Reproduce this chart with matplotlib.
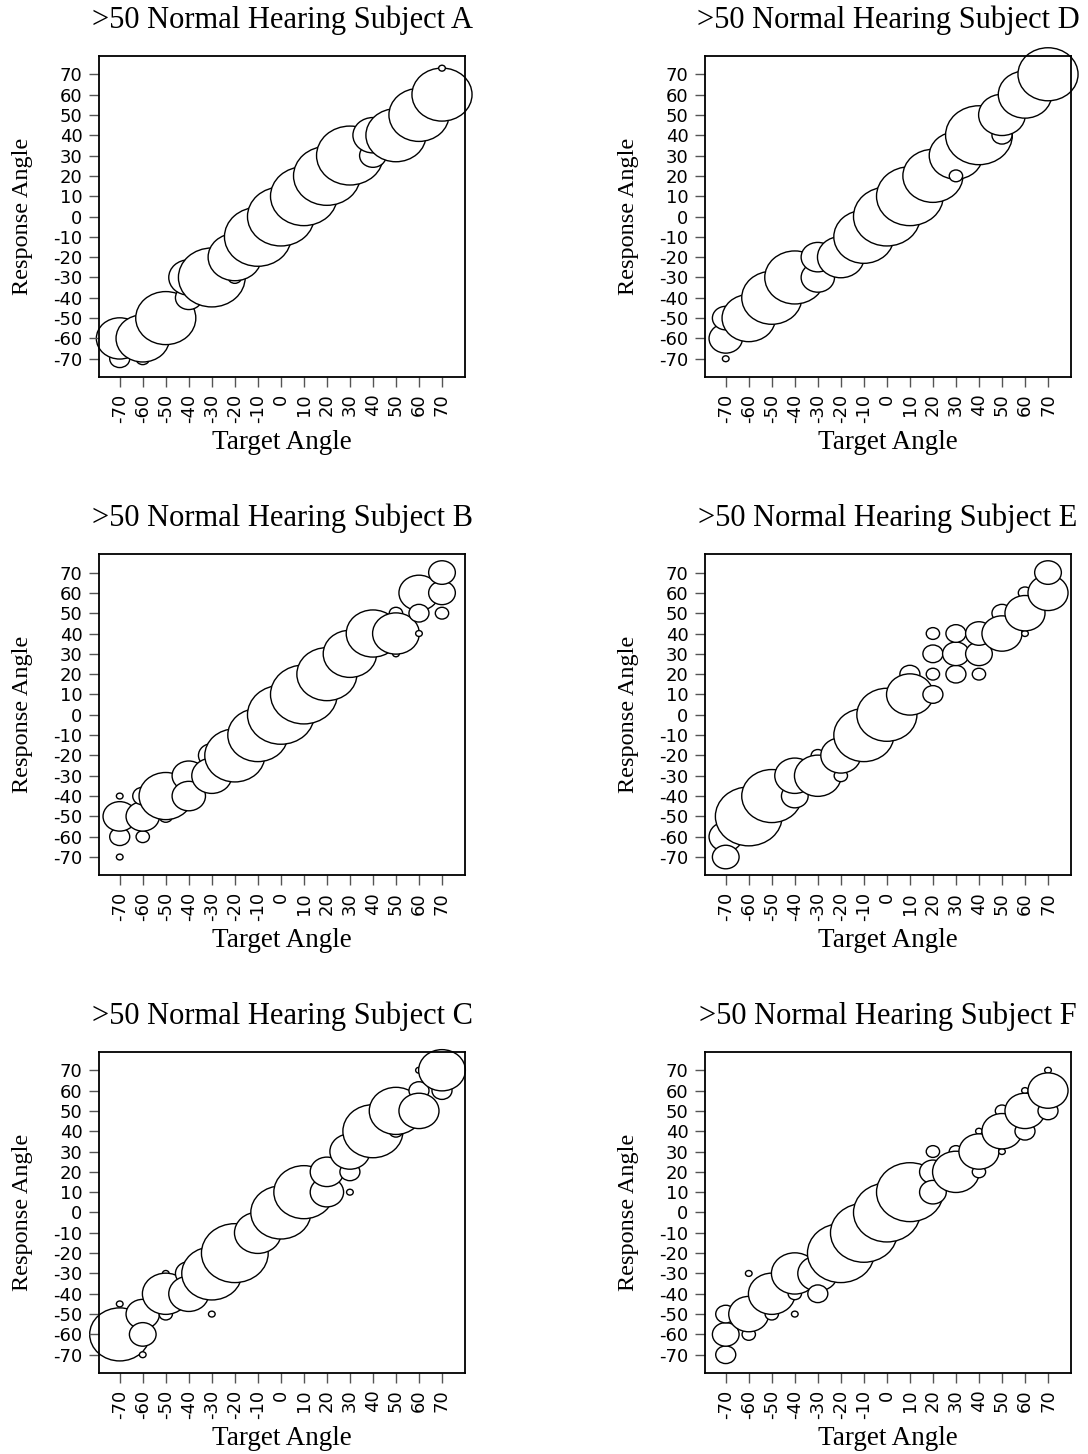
import matplotlib.pyplot as plt
from matplotlib.patches import Circle
import numpy as np

plt.rcParams['font.family'] = ['Liberation Serif', 'DejaVu Serif']

angles = np.arange(-70, 71, 10)

# bubble = number of responses (of 10 trials per target angle)
a_target = [-70, -70, -60, -60, -50, -40, -40, -30, -20, -20, -10, 0, 10, 20, 30, 40, 40, 50, 60, 70, 70]
a_response = [-70, -60, -70, -60, -50, -40, -30, -30, -30, -20, -10, 0, 10, 20, 30, 30, 40, 40, 50, 60, 73]
a_count = [3, 7, 2, 8, 9, 4, 6, 10, 2, 8, 10, 10, 10, 10, 10, 4, 6, 9, 9, 9, 1]

b_target = [-70, -70, -70, -70, -60, -60, -60, -50, -50, -40, -40, -30, -30, -20, -10, 0, 10, 20, 30, 40,
            50, 50, 50, 60, 60, 60, 70, 70, 70]
b_response = [-70, -60, -50, -40, -60, -50, -40, -50, -40, -30, -40, -20, -30, -20, -10, 0, 10, 20, 30, 40,
              30, 50, 40, 40, 60, 50, 50, 60, 70]
b_count = [1, 3, 5, 1, 2, 5, 3, 2, 8, 5, 5, 4, 6, 9, 9, 10, 10, 9, 8, 8,
           1, 2, 7, 1, 6, 3, 2, 4, 4]

c_target = [-70, -70, -60, -60, -60, -50, -50, -50, -40, -40, -30, -30, -20, -10, -10, 0, 10, 20, 20,
            30, 30, 30, 40, 50, 50, 60, 60, 60, 70, 70]
c_response = [-45, -60, -70, -50, -60, -50, -30, -40, -30, -40, -50, -30, -20, 0, -10, 0, 10, 10, 20,
              10, 20, 30, 40, 40, 50, 70, 60, 50, 60, 70]
c_count = [1, 9, 1, 5, 4, 2, 1, 7, 4, 6, 1, 9, 10, 1, 7, 9, 9, 5, 5,
           1, 3, 6, 9, 2, 8, 1, 3, 6, 3, 7]

d_target = [-70, -70, -70, -60, -50, -40, -30, -30, -20, -10, 0, 10, 20, 30, 30, 40, 50, 50, 60, 70]
d_response = [-60, -50, -70, -50, -40, -30, -30, -20, -20, -10, 0, 10, 20, 30, 20, 40, 40, 50, 60, 70]
d_count = [5, 4, 1, 8, 9, 9, 5, 5, 7, 9, 10, 10, 9, 8, 2, 10, 3, 7, 8, 9]

e_target = [-70, -70, -70, -60, -50, -40, -40, -30, -30, -20, -20, -10, 0, 10, 10, 20, 20, 20, 20,
            30, 30, 30, 40, 40, 40, 50, 50, 60, 60, 60, 70, 70]
e_response = [-50, -60, -70, -50, -40, -40, -30, -20, -30, -30, -20, -10, 0, 20, 10, 10, 20, 30, 40,
              20, 30, 40, 20, 30, 40, 50, 40, 40, 60, 50, 60, 70]
e_count = [1, 5, 4, 10, 9, 4, 6, 2, 7, 2, 6, 9, 9, 3, 7, 3, 2, 3, 2,
           3, 4, 3, 2, 4, 4, 3, 6, 1, 2, 6, 6, 4]

f_target = [-70, -70, -70, -60, -60, -60, -50, -50, -40, -40, -40, -30, -30, -20, -10, 0, 10, 20, 20, 20,
            30, 30, 40, 40, 40, 50, 50, 50, 60, 60, 60, 70, 70, 70]
f_response = [-70, -60, -50, -60, -30, -50, -50, -40, -50, -40, -30, -30, -40, -20, -10, 0, 10, 30, 20, 10,
              30, 20, 40, 20, 30, 30, 50, 40, 60, 40, 50, 70, 50, 60]
f_count = [3, 4, 3, 2, 1, 6, 2, 7, 1, 2, 7, 6, 3, 10, 10, 10, 10, 2, 4, 4,
           2, 7, 1, 2, 6, 1, 2, 6, 1, 3, 6, 1, 3, 6]

subjects = [
    ('A', a_target, a_response, a_count),
    ('B', b_target, b_response, b_count),
    ('C', c_target, c_response, c_count),
    ('D', d_target, d_response, d_count),
    ('E', e_target, e_response, e_count),
    ('F', f_target, f_response, f_count),
]

R_UNIT = 1.45  # radius (data units) per response

fig = plt.figure(figsize=(10.88, 14.54), dpi=100)
lefts = [0.091, 0.648]
bottoms = [0.7407, 0.398, 0.0557]
w, h = 0.3364, 0.2208

for i, (name, target, response, count) in enumerate(subjects):
    ax = fig.add_axes([lefts[i // 3], bottoms[i % 3], w, h])
    for x, y, n in zip(target, response, count):
        ax.add_patch(Circle((x, y), radius=R_UNIT * n, facecolor='white',
                            edgecolor='black', lw=1.0, clip_on=False))
    ax.set_xlim(-79, 80)
    ax.set_ylim(-79, 79)
    ax.set_xticks(angles)
    ax.set_yticks(angles)
    ax.set_xticklabels(angles, rotation=90, fontfamily='DejaVu Sans', fontsize=13)
    ax.set_yticklabels(angles, fontfamily='DejaVu Sans', fontsize=13)
    ax.tick_params(length=7, width=1, color='#555555', pad=5, labelcolor='black')
    for s in ax.spines.values():
        s.set_linewidth(1.3)
    ax.set_title('>50 Normal Hearing Subject ' + name, fontsize=22, pad=20)
    ax.set_xlabel('Target Angle', fontsize=19.5)
    ax.set_ylabel('Response Angle', fontsize=17.5)
    ax.xaxis.set_label_coords(0.5, -0.165)
    ax.yaxis.set_label_coords(-0.18, 0.5)

fig.savefig('out.png', dpi=100)
